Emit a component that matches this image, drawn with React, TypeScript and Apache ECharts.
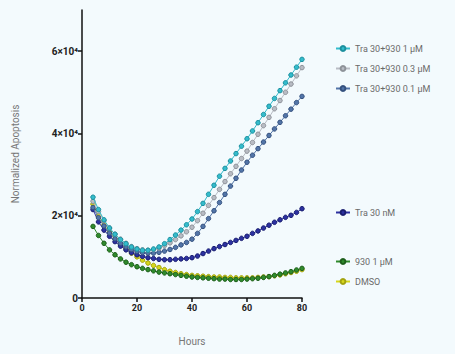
import React, { useEffect, useRef } from "react";
import * as echarts from "echarts";

const hours = [4, 6, 8, 10, 12, 14, 16, 18, 20, 22, 24, 26, 28, 30, 32, 34, 36, 38, 40, 42, 44, 46, 48, 50, 52, 54, 56, 58, 60, 62, 64, 66, 68, 70, 72, 74, 76, 78, 80];

const tra930_1 = [24500, 21500, 19000, 17000, 15500, 14200, 13200, 12400, 11900, 11600, 11600, 11900, 12400, 13200, 14200, 15300, 16500, 17800, 19200, 21000, 23000, 25200, 27400, 29600, 31500, 33300, 35100, 36900, 38700, 40600, 42600, 44600, 46600, 48500, 50400, 52300, 54200, 56100, 58000];
const tra930_03 = [23500, 21000, 18800, 17000, 15500, 14300, 13300, 12500, 12000, 11700, 11600, 11800, 12100, 12700, 13400, 14200, 15100, 16100, 17200, 18800, 20600, 22500, 24400, 26400, 28300, 30200, 32000, 33900, 35700, 37800, 39800, 41900, 43900, 46000, 48000, 50000, 52000, 54000, 56000];
const tra930_01 = [22000, 19500, 17500, 15800, 14400, 13300, 12400, 11800, 11300, 11000, 10900, 10900, 11100, 11400, 11800, 12300, 12900, 13500, 14300, 15700, 17400, 19300, 21200, 23200, 25200, 27200, 29100, 31100, 33000, 34700, 36300, 37900, 39500, 41100, 42700, 44300, 45900, 47500, 49000];
const tra30 = [21500, 18500, 16500, 15000, 13700, 12600, 11700, 11000, 10500, 10100, 9800, 9600, 9400, 9300, 9300, 9400, 9500, 9600, 9800, 10200, 10800, 11400, 12000, 12500, 13000, 13500, 14000, 14500, 15000, 15700, 16300, 17000, 17700, 18400, 19000, 19600, 20100, 20800, 21700];
const c930_1 = [17400, 15200, 13300, 11700, 10500, 9500, 8700, 8100, 7600, 7200, 6900, 6600, 6300, 6100, 5900, 5700, 5500, 5300, 5100, 5000, 4900, 4800, 4700, 4600, 4600, 4500, 4500, 4500, 4600, 4700, 4800, 5000, 5200, 5500, 5800, 6100, 6400, 6800, 7200];
const dmso = [22800, 20000, 17800, 16000, 14400, 13000, 11900, 10900, 10000, 9200, 8500, 7900, 7400, 6900, 6500, 6200, 5900, 5700, 5500, 5400, 5300, 5200, 5100, 5100, 5000, 5000, 4900, 4900, 4900, 4900, 5000, 5100, 5200, 5400, 5600, 5900, 6200, 6500, 6900];

const seriesNames = ["Tra 30+930 1 µM", "Tra 30+930 0.3 µM", "Tra 30+930 0.1 µM", "Tra 30 nM", "930 1 µM", "DMSO"];
const yTickLabels: Record<number, string> = { 0: "0", 20000: "2×10⁴", 40000: "4×10⁴", 60000: "6×10⁴" };

const colors = ["#33bccc", "#b8bcc4", "#5275a8", "#2c31a0", "#2f8a2c", "#d6d61c"];
const borders = ["#1c8f9e", "#8e9299", "#34507e", "#1a1e70", "#1d5e1b", "#a3a310"];

export default function App() {
  const ref = useRef<HTMLDivElement>(null);
  useEffect(() => {
    if (!ref.current) return;
    const chart = echarts.init(ref.current, undefined, { renderer: "svg" });
    const datasets = [tra930_1, tra930_03, tra930_01, tra30, c930_1, dmso];
    const series = datasets.map((d, i) => ({
      name: seriesNames[i],
      type: "line",
      data: hours.map((h, k) => [h, d[k]]),
      symbol: "circle",
      symbolSize: 4.5,
      z: 10 - i,
      lineStyle: { color: colors[i], width: 1 },
      itemStyle: { color: colors[i], borderColor: borders[i], borderWidth: 1 },
    }));
    const legendText = { color: "#6a6a6a", fontSize: 9, fontFamily: "Roboto" };
    const legendBase = {
      orient: "vertical",
      left: 330,
      itemWidth: 14,
      itemHeight: 6,
      itemGap: 11,
      textStyle: legendText,
      selectedMode: false,
    };
    chart.setOption({
      animation: false,
      backgroundColor: "#f3fafd",
      grid: { left: 82, right: 153, top: 10, bottom: 56 },
      legend: [
        { ...legendBase, top: 39, data: seriesNames.slice(0, 3) },
        { ...legendBase, top: 203, data: seriesNames.slice(3, 4) },
        { ...legendBase, top: 252, data: seriesNames.slice(4, 6) },
      ],
      xAxis: {
        type: "value",
        min: 0,
        max: 80,
        interval: 20,
        name: "Hours",
        nameLocation: "middle",
        nameGap: 38,
        nameTextStyle: { color: "#777", fontSize: 10, fontFamily: "Roboto" },
        axisLine: { lineStyle: { color: "#111", width: 1.5 } },
        axisTick: { length: 4, lineStyle: { color: "#111", width: 1.5 } },
        axisLabel: { color: "#222", fontSize: 9, fontWeight: "bold", fontFamily: "Roboto", margin: 5 },
        splitLine: { show: false },
      },
      yAxis: {
        type: "value",
        min: 0,
        max: 70000,
        interval: 20000,
        name: "Normalized Apoptosis",
        nameLocation: "middle",
        nameGap: 62,
        nameTextStyle: { color: "#777", fontSize: 10, fontFamily: "Roboto" },
        axisLine: { show: true, lineStyle: { color: "#111", width: 1.5 } },
        axisTick: { show: true, length: 4, lineStyle: { color: "#111", width: 1.5 } },
        axisLabel: {
          color: "#222",
          fontSize: 10,
          fontWeight: "bold",
          fontFamily: "Roboto",
          margin: 4,
          showMaxLabel: false,
          formatter: (v: number) => yTickLabels[v] ?? "",
        },
        splitLine: { show: false },
      },
      series,
    });
    return () => chart.dispose();
  }, []);
  return <div ref={ref} style={{ position: "absolute", left: 0, top: 0, width: 455, height: 354 }} />;
}
